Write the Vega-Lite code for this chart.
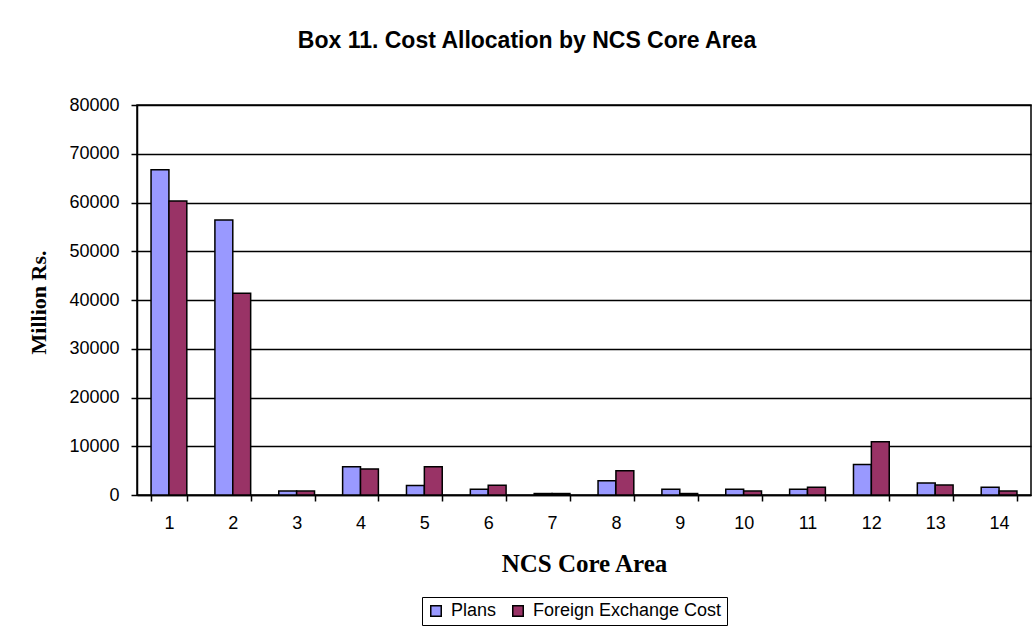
{
  "$schema": "https://vega.github.io/schema/vega-lite/v6.json",
  "autosize": {"type": "none"},
  "width": 894,
  "height": 390,
  "padding": {"left": 137, "top": 105, "right": 4, "bottom": 133},
  "background": "white",
  "title": {
    "text": "Box 11. Cost Allocation by NCS Core Area",
    "font": "Liberation Sans",
    "fontSize": 23,
    "fontWeight": "bold",
    "color": "black",
    "anchor": "middle",
    "dx": -57,
    "offset": 43
  },
  "data": {
    "values": [
      {"area": "1", "series": "Plans", "value": 66700},
      {"area": "1", "series": "Foreign Exchange Cost", "value": 60300},
      {"area": "2", "series": "Plans", "value": 56400},
      {"area": "2", "series": "Foreign Exchange Cost", "value": 41400},
      {"area": "3", "series": "Plans", "value": 800},
      {"area": "3", "series": "Foreign Exchange Cost", "value": 800},
      {"area": "4", "series": "Plans", "value": 5800},
      {"area": "4", "series": "Foreign Exchange Cost", "value": 5350},
      {"area": "5", "series": "Plans", "value": 1970},
      {"area": "5", "series": "Foreign Exchange Cost", "value": 5800},
      {"area": "6", "series": "Plans", "value": 1200},
      {"area": "6", "series": "Foreign Exchange Cost", "value": 2000},
      {"area": "7", "series": "Plans", "value": 300},
      {"area": "7", "series": "Foreign Exchange Cost", "value": 300},
      {"area": "8", "series": "Plans", "value": 2900},
      {"area": "8", "series": "Foreign Exchange Cost", "value": 5000},
      {"area": "9", "series": "Plans", "value": 1200},
      {"area": "9", "series": "Foreign Exchange Cost", "value": 300},
      {"area": "10", "series": "Plans", "value": 1200},
      {"area": "10", "series": "Foreign Exchange Cost", "value": 800},
      {"area": "11", "series": "Plans", "value": 1200},
      {"area": "11", "series": "Foreign Exchange Cost", "value": 1600},
      {"area": "12", "series": "Plans", "value": 6270},
      {"area": "12", "series": "Foreign Exchange Cost", "value": 10900},
      {"area": "13", "series": "Plans", "value": 2460},
      {"area": "13", "series": "Foreign Exchange Cost", "value": 2040},
      {"area": "14", "series": "Plans", "value": 1600},
      {"area": "14", "series": "Foreign Exchange Cost", "value": 800}
    ]
  },
  "mark": {"type": "bar", "stroke": "black", "strokeWidth": 1.5},
  "encoding": {
    "x": {
      "field": "area",
      "type": "ordinal",
      "sort": ["1","2","3","4","5","6","7","8","9","10","11","12","13","14"],
      "scale": {"paddingInner": 0.44, "paddingOuter": 0.22},
      "axis": {
        "title": "NCS Core Area",
        "titleFont": "Liberation Serif",
        "titleFontSize": 25,
        "titleFontWeight": "bold",
        "titleColor": "black",
        "titleX": 447,
        "titleY": 68,
        "titleBaseline": "middle",
        "labelAngle": 0,
        "labelFont": "Liberation Sans",
        "labelFontSize": 18,
        "labelColor": "black",
        "labelPadding": 13,
        "tickBand": "extent",
        "tickSize": 6,
        "tickColor": "black",
        "tickWidth": 1.5,
        "domainColor": "black",
        "domainWidth": 1.5,
        "grid": false
      }
    },
    "xOffset": {
      "field": "series",
      "type": "nominal",
      "sort": ["Plans", "Foreign Exchange Cost"],
      "scale": {"paddingInner": 0, "paddingOuter": 0}
    },
    "y": {
      "field": "value",
      "type": "quantitative",
      "scale": {"domain": [0, 80000], "nice": false},
      "axis": {
        "title": "Million Rs.",
        "titleFont": "Liberation Serif",
        "titleFontSize": 22,
        "titleFontWeight": "bold",
        "titleColor": "black",
        "titleX": -99,
        "titleY": 197,
        "titleAlign": "center",
        "titleBaseline": "middle",
        "values": [0, 10000, 20000, 30000, 40000, 50000, 60000, 70000, 80000],
        "format": "d",
        "labelFont": "Liberation Sans",
        "labelFontSize": 18,
        "labelColor": "black",
        "labelPadding": 12,
        "tickSize": 6,
        "tickColor": "black",
        "tickWidth": 1.5,
        "domainColor": "black",
        "domainWidth": 1.5,
        "grid": true,
        "gridColor": "black",
        "gridWidth": 1.5,
        "gridOpacity": 1
      }
    },
    "color": {
      "field": "series",
      "type": "nominal",
      "sort": ["Plans", "Foreign Exchange Cost"],
      "scale": {"domain": ["Plans", "Foreign Exchange Cost"], "range": ["#9999FF", "#993366"]},
      "legend": {
        "title": null,
        "orient": "none",
        "legendX": 285,
        "legendY": 492,
        "direction": "horizontal",
        "columns": 2,
        "symbolType": "square",
        "symbolSize": 110,
        "symbolStrokeColor": "black",
        "symbolStrokeWidth": 1.5,
        "labelFont": "Liberation Sans",
        "labelFontSize": 18,
        "labelColor": "black",
        "labelLimit": 400,
        "labelOffset": 6,
        "columnPadding": 12,
        "strokeColor": "black",
        "padding": 5
      }
    }
  },
  "config": {
    "view": {"stroke": "black", "strokeWidth": 1.5},
    "axis": {"labelOverlap": false}
  }
}
